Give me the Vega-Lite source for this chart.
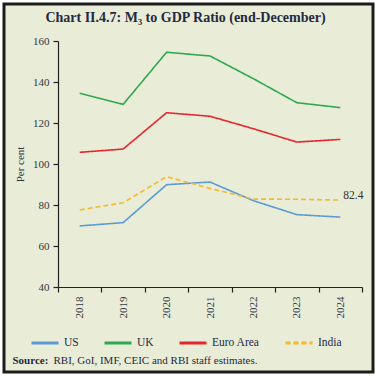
{
  "$schema": "https://vega.github.io/schema/vega-lite/v6.json",
  "width": 369,
  "height": 368,
  "autosize": {"type": "none"},
  "padding": {"left": 4, "top": 4, "right": 4, "bottom": 5},
  "background": "white",
  "config": {
    "view": {"stroke": "#1c1c1c", "strokeWidth": 3, "fill": "#e9ecd6"},
    "font": "Liberation Serif"
  },
  "title": {
    "text": "Chart II.4.7: M₃ to GDP Ratio (end-December)",
    "font": "Liberation Serif",
    "fontSize": 14,
    "fontWeight": "bold",
    "color": "#1f2a44",
    "anchor": "middle",
    "frame": "group",
    "offset": -21,
    "dx": -3
  },
  "data": {
    "values": [
      {"series": "US", "year": 2018, "value": 69.8},
      {"series": "US", "year": 2019, "value": 71.4},
      {"series": "US", "year": 2020, "value": 89.9},
      {"series": "US", "year": 2021, "value": 91.2},
      {"series": "US", "year": 2022, "value": 82.1},
      {"series": "US", "year": 2023, "value": 75.3},
      {"series": "US", "year": 2024, "value": 74.1},
      {"series": "UK", "year": 2018, "value": 134.5},
      {"series": "UK", "year": 2019, "value": 129.1},
      {"series": "UK", "year": 2020, "value": 154.5},
      {"series": "UK", "year": 2021, "value": 152.7},
      {"series": "UK", "year": 2022, "value": 141.6},
      {"series": "UK", "year": 2023, "value": 129.9},
      {"series": "UK", "year": 2024, "value": 127.5},
      {"series": "Euro Area", "year": 2018, "value": 105.7},
      {"series": "Euro Area", "year": 2019, "value": 107.3},
      {"series": "Euro Area", "year": 2020, "value": 125.0},
      {"series": "Euro Area", "year": 2021, "value": 123.3},
      {"series": "Euro Area", "year": 2022, "value": 117.2},
      {"series": "Euro Area", "year": 2023, "value": 110.7},
      {"series": "Euro Area", "year": 2024, "value": 112.0},
      {"series": "India", "year": 2018, "value": 77.6},
      {"series": "India", "year": 2019, "value": 81.1},
      {"series": "India", "year": 2020, "value": 93.8},
      {"series": "India", "year": 2021, "value": 88.1},
      {"series": "India", "year": 2022, "value": 82.9},
      {"series": "India", "year": 2023, "value": 82.8},
      {"series": "India", "year": 2024, "value": 82.4}
    ]
  },
  "encoding": {
    "y": {
      "field": "value",
      "type": "quantitative",
      "scale": {"domain": [40, 160], "range": [283, 37], "nice": false, "zero": false},
      "axis": {
        "offset": -54,
        "values": [40, 60, 80, 100, 120, 140, 160],
        "grid": false,
        "domainColor": "#222222",
        "domainWidth": 1.2,
        "tickColor": "#222222",
        "tickSize": 5,
        "tickWidth": 1.2,
        "labelPadding": 4,
        "labelFont": "Liberation Serif",
        "labelFontSize": 11,
        "labelColor": "#2e3848",
        "title": "Per cent",
        "titleFont": "Liberation Serif",
        "titleFontSize": 11,
        "titleFontWeight": "normal",
        "titleColor": "#2e3848",
        "titleAngle": 270,
        "titleAlign": "center",
        "titleBaseline": "middle",
        "titleX": -38,
        "titleY": 160
      }
    }
  },
  "layer": [
    {
      "mark": {"type": "line", "strokeWidth": 1.6},
      "encoding": {
        "x": {
          "field": "year",
          "type": "quantitative",
          "scale": {"domain": [2017.5, 2024.5], "range": [54, 358], "nice": false, "zero": false},
          "axis": {
            "orient": "bottom",
            "offset": -85,
            "values": [2017.5, 2018.5, 2019.5, 2020.5, 2021.5, 2022.5, 2023.5, 2024.5],
            "labels": false,
            "grid": false,
            "domainColor": "#222222",
            "domainWidth": 1.2,
            "tickColor": "#222222",
            "tickSize": 5,
            "tickWidth": 1.2,
            "title": "Source:",
            "titleFont": "Liberation Serif",
            "titleFontSize": 11,
            "titleFontWeight": "bold",
            "titleColor": "#1f2a44",
            "titleAlign": "left",
            "titleBaseline": "alphabetic",
            "titleX": 8,
            "titleY": 76
          }
        },
        "color": {
          "field": "series",
          "type": "nominal",
          "scale": {
            "domain": ["US", "UK", "Euro Area", "India"],
            "range": ["#5b9bd5", "#2eaa4e", "#e8262d", "#f6b82a"]
          },
          "legend": {
            "title": null,
            "orient": "none",
            "legendX": 26,
            "legendY": 324,
            "direction": "horizontal",
            "columns": 4,
            "gridAlign": "none",
            "symbolType": "stroke",
            "symbolSize": 729,
            "symbolStrokeWidth": 3,
            "labelFont": "Liberation Serif",
            "labelFontSize": 11.5,
            "labelColor": "#1f2a44",
            "labelOffset": 4,
            "columnPadding": 19
          }
        },
        "strokeDash": {
          "field": "series",
          "type": "nominal",
          "scale": {
            "domain": ["US", "UK", "Euro Area", "India"],
            "range": [[1, 0], [1, 0], [1, 0], [5, 3]]
          },
          "legend": {
            "title": null,
            "orient": "none",
            "legendX": 26,
            "legendY": 324,
            "direction": "horizontal",
            "columns": 4,
            "gridAlign": "none",
            "symbolType": "stroke",
            "symbolSize": 729,
            "symbolStrokeWidth": 3,
            "labelFont": "Liberation Serif",
            "labelFontSize": 11.5,
            "labelColor": "#1f2a44",
            "labelOffset": 4,
            "columnPadding": 19
          }
        }
      }
    },
    {
      "transform": [{"filter": "datum.series === 'India' && datum.year === 2024"}],
      "mark": {"type": "text", "align": "left", "baseline": "middle", "dx": 3, "dy": -4, "font": "Liberation Serif", "fontSize": 11.5, "color": "#333333"},
      "encoding": {
        "text": {"field": "value", "type": "quantitative", "format": ".1f"},
        "x": {
          "field": "year",
          "type": "quantitative",
          "scale": {"domain": [2017.5, 2024.5], "range": [54, 358], "nice": false, "zero": false},
          "axis": {
            "orient": "bottom",
            "offset": -85,
            "values": [2018, 2019, 2020, 2021, 2022, 2023, 2024],
            "format": "d",
            "domain": false,
            "ticks": false,
            "grid": false,
            "labelAngle": 270,
            "labelAlign": "right",
            "labelBaseline": "middle",
            "labelPadding": 9,
            "labelFont": "Liberation Serif",
            "labelFontSize": 11,
            "labelColor": "#2e3848",
            "title": "RBI, GoI, IMF, CEIC and RBI staff estimates.",
            "titleFont": "Liberation Serif",
            "titleFontSize": 11,
            "titleFontWeight": "normal",
            "titleColor": "#1f2a44",
            "titleAlign": "left",
            "titleBaseline": "alphabetic",
            "titleX": 49,
            "titleY": 76
          }
        }
      }
    }
  ],
  "resolve": {"scale": {"x": "independent"}, "axis": {"x": "independent"}}
}
